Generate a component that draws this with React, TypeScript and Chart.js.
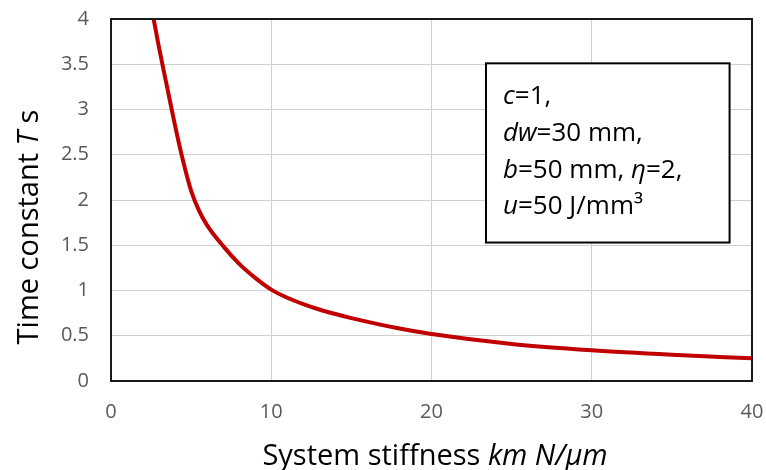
import { useEffect, useRef } from "react";
import { Chart, registerables } from "chart.js";

Chart.register(...registerables);

// System stiffness km (N/μm) and the resulting time constant T (s)
const stiffness = [2.5, 3, 3.5, 4, 4.5, 5, 5.5, 6, 7, 8, 9, 10, 11, 12, 13, 14, 15, 18, 20, 25, 30, 35, 40];
const timeConstant = [4.15, 3.68, 3.25, 2.82, 2.43, 2.1, 1.88, 1.72, 1.49, 1.295, 1.14, 1.01, 0.92, 0.85, 0.79, 0.74, 0.695, 0.58, 0.52, 0.41, 0.34, 0.29, 0.25];

const X_MIN = 0;
const X_MAX = 40;
const X_STEP = 10;
const Y_MIN = 0;
const Y_MAX = 4;
const Y_STEP = 0.5;

type Seg = [string, boolean];

const xTitle: Seg[] = [["System stiffness ", false], ["km N/μm", true]];
const yTitle: Seg[] = [["Time constant ", false], ["T", true], [" s", false]];
const noteLines: Seg[][] = [
  [["c", true], ["=1,", false]],
  [["dw", true], ["=30 mm,", false]],
  [["b", true], ["=50 mm, ", false], ["η", true], ["=2,", false]],
  [["u", true], ["=50 J/mm³", false]],
];

const FONT = '"Open Sans", "Liberation Sans", sans-serif';
const LINE_RED = "#C00000";
const GRID = "#d0d0d0";
const TICK_TEXT = "#595959";

function segFont(italic: boolean, size: number) {
  return `${italic ? "italic " : ""}${size}px ${FONT}`;
}

function segWidth(ctx: CanvasRenderingContext2D, segs: Seg[], size: number) {
  let w = 0;
  for (const [t, it] of segs) {
    ctx.font = segFont(it, size);
    w += ctx.measureText(t).width;
  }
  return w;
}

function drawSegs(ctx: CanvasRenderingContext2D, segs: Seg[], x: number, y: number, size: number) {
  let cx = x;
  for (const [t, it] of segs) {
    ctx.font = segFont(it, size);
    ctx.fillText(t, cx, y);
    cx += ctx.measureText(t).width;
  }
}

const decorations = {
  id: "decorations",
  afterDraw(chart: Chart) {
    const { ctx, chartArea } = chart;
    const xs = chart.scales.x;
    const ys = chart.scales.y;
    ctx.save();

    // plot frame
    ctx.strokeStyle = "#1a1a1a";
    ctx.lineWidth = 2;
    ctx.strokeRect(chartArea.left, chartArea.top, chartArea.right - chartArea.left, chartArea.bottom - chartArea.top);

    // axis titles
    ctx.fillStyle = "#000";
    ctx.textBaseline = "alphabetic";
    ctx.textAlign = "left";
    const titleSize = 29;
    const xw = segWidth(ctx, xTitle, titleSize);
    drawSegs(ctx, xTitle, 435 - xw / 2, 465, titleSize);

    const yw = segWidth(ctx, yTitle, titleSize);
    ctx.save();
    ctx.translate(38, 227);
    ctx.rotate(-Math.PI / 2);
    drawSegs(ctx, yTitle, -yw / 2, 0, titleSize);
    ctx.restore();

    // parameter box
    const bx0 = xs.getPixelForValue(23.4);
    const bx1 = xs.getPixelForValue(38.6);
    const by0 = ys.getPixelForValue(3.51);
    const by1 = ys.getPixelForValue(1.53);
    ctx.fillStyle = "#fff";
    ctx.fillRect(bx0, by0, bx1 - bx0, by1 - by0);
    ctx.strokeStyle = "#000";
    ctx.lineWidth = 2;
    ctx.strokeRect(bx0, by0, bx1 - bx0, by1 - by0);
    ctx.fillStyle = "#000";
    const noteSize = 26;
    noteLines.forEach((line, i) => {
      drawSegs(ctx, line, bx0 + 17, by0 + 41 + i * 36.7, noteSize);
    });

    ctx.restore();
  },
};

export default function App() {
  const canvasRef = useRef<HTMLCanvasElement | null>(null);

  useEffect(() => {
    const canvas = canvasRef.current;
    if (!canvas) return;
    const chart = new Chart(canvas, {
      type: "line",
      data: {
        datasets: [
          {
            data: stiffness.map((x, i) => ({ x, y: timeConstant[i] })),
            borderColor: LINE_RED,
            borderWidth: 4,
            pointRadius: 0,
            cubicInterpolationMode: "monotone",
            fill: false,
            clip: 0,
          },
        ],
      },
      options: {
        responsive: false,
        animation: false,
        devicePixelRatio: 1,
        layout: { padding: { top: 19, right: 14, left: 0, bottom: 0 } },
        plugins: {
          legend: { display: false },
          tooltip: { enabled: false },
        },
        scales: {
          x: {
            type: "linear",
            min: X_MIN,
            max: X_MAX,
            ticks: {
              stepSize: X_STEP,
              color: TICK_TEXT,
              font: { family: FONT, size: 20 },
              padding: 19,
              maxRotation: 0,
            },
            grid: { color: GRID, lineWidth: 1, drawTicks: false },
            border: { display: false },
            afterFit: (s: any) => {
              s.height = 89;
              s.paddingLeft = 0;
              s.paddingRight = 0;
              s.paddingTop = 0;
              s.paddingBottom = 0;
            },
          },
          y: {
            type: "linear",
            min: Y_MIN,
            max: Y_MAX,
            ticks: {
              stepSize: Y_STEP,
              color: TICK_TEXT,
              font: { family: FONT, size: 20 },
              padding: 22,
              callback: (v: any) => String(Number(v)),
            },
            grid: { color: GRID, lineWidth: 1, drawTicks: false },
            border: { display: false },
            afterFit: (s: any) => {
              s.width = 111;
              s.paddingLeft = 0;
              s.paddingRight = 0;
              s.paddingTop = 0;
              s.paddingBottom = 0;
            },
          },
        },
      },
      plugins: [decorations],
    });
    return () => chart.destroy();
  }, []);

  return (
    <div style={{ position: "absolute", left: 0, top: 0, width: 766, height: 470, background: "#fff" }}>
      <canvas ref={canvasRef} width={766} height={470} />
    </div>
  );
}
